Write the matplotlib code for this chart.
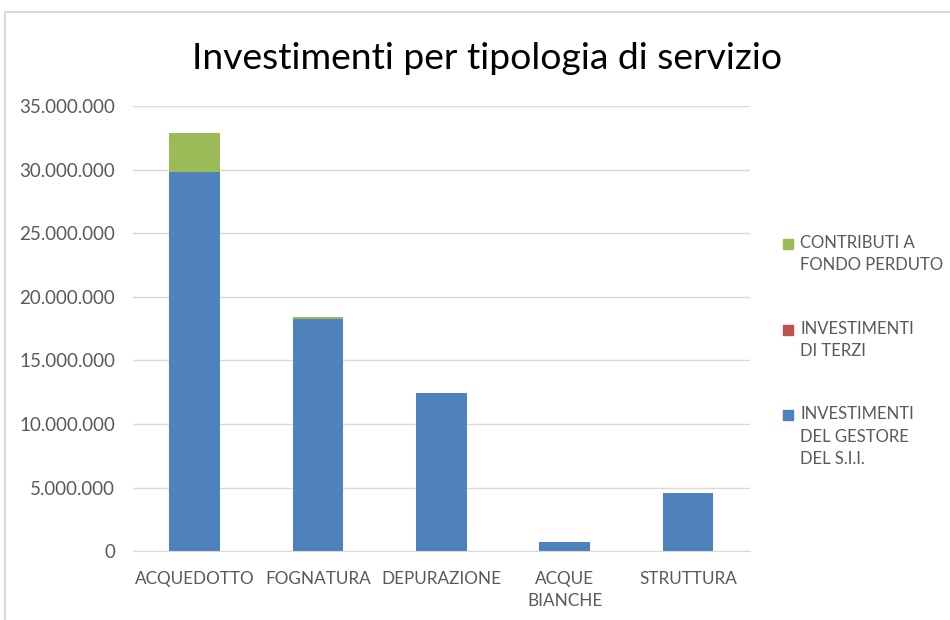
import numpy as np
import matplotlib.pyplot as plt
from matplotlib.ticker import FuncFormatter
from matplotlib.patches import Rectangle

plt.rcParams['font.family'] = ['Lato', 'DejaVu Sans']

categorie = ['ACQUEDOTTO', 'FOGNATURA', 'DEPURAZIONE', 'ACQUE\nBIANCHE', 'STRUTTURA']
gestore = [29800000, 18250000, 12450000, 710000, 4560000]
terzi = [0, 0, 0, 0, 0]
contributi = [3080000, 150000, 0, 0, 0]

etichette = ['INVESTIMENTI\nDEL GESTORE\nDEL S.I.I.', 'INVESTIMENTI\nDI TERZI',
             'CONTRIBUTI A\nFONDO PERDUTO']
colori = ['#4f81bd', '#c0504d', '#9bbb59']

fig = plt.figure(figsize=(9.5, 6.2), dpi=100)
ax = fig.add_axes([0.14, 0.111, 0.649, 0.718])

x = np.arange(len(categorie))
w = 0.41
ax.bar(x, gestore, w, color=colori[0])
ax.bar(x, terzi, w, bottom=gestore, color=colori[1])
base = np.array(gestore) + np.array(terzi)
ax.bar(x, contributi, w, bottom=base, color=colori[2])

ax.set_xlim(-0.5, len(categorie) - 0.5)
ax.set_ylim(0, 35000000)
ax.set_yticks(np.arange(0, 35000001, 5000000))
ax.yaxis.set_major_formatter(FuncFormatter(lambda v, p: f'{int(v):,}'.replace(',', '.')))
ax.set_xticks(x)
ax.set_xticklabels(categorie, linespacing=1.5)
ax.tick_params(axis='both', length=0, colors='#595959')
ax.tick_params(axis='x', pad=14, labelsize=12.3)
ax.tick_params(axis='y', pad=13, labelsize=13.5)
ax.grid(axis='y', color='#d9d9d9', linewidth=1)
ax.set_axisbelow(True)
for s in ['top', 'right', 'left']:
    ax.spines[s].set_visible(False)
ax.spines['bottom'].set_color('#d9d9d9')

fig.text(0.513, 0.905, 'Investimenti per tipologia di servizio', ha='center', va='center',
         fontsize=26.8, color='black')

# legenda costruita a mano: quadratino allineato alla prima riga del testo
voci_top = [244, 330, 415]  # pixel dall'alto della prima riga
for i, top in zip([2, 1, 0], voci_top):
    yf = 1 - top / 620
    fig.patches.append(Rectangle((783 / 950, yf - 5 / 620), 10 / 950, 10 / 620,
                                 transform=fig.transFigure, color=colori[i]))
    fig.text(800 / 950, yf + 9 / 620, etichette[i], ha='left', va='top', fontsize=12,
             color='#595959', linespacing=1.5)

fig.patches.append(Rectangle((0.005, -0.01), 1.1, 0.99, transform=fig.transFigure,
                             fill=False, edgecolor='#d9d9d9', linewidth=1.5))

fig.savefig('out.png', dpi=100)
